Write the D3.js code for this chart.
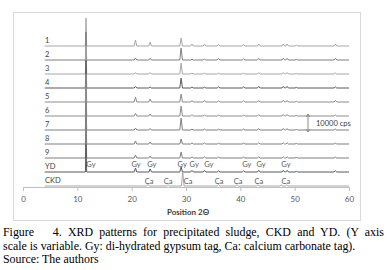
<!DOCTYPE html>
<html><head><meta charset="utf-8">
<script src="https://cdn.jsdelivr.net/npm/d3@7"></script>
<style>
html,body{margin:0;padding:0;background:#fff;}
svg{display:block;}
</style></head>
<body>
<svg id="chart" width="387" height="270"></svg>
<script>
// ---- data ----
const rowNames = ["1","2","3","4","5","6","7","8","9","YD","CKD"];
const xTicks = [0,10,20,30,40,50,60];
const scanRange = [4, 60];
// gypsum peak positions (2θ) shared by patterns 1-9 and YD
const gyPeakPos = [11.6, 20.7, 23.4, 29.1, 31.1, 33.4, 36.0, 40.6, 43.4, 47.9, 48.6, 50.3, 57.5];
// peak intensities (cps) per pattern, in gyPeakPos order
const row1 = [15500, 3300, 2200, 4400, 1100, 1100, 900, 900, 1100, 1100, 1100, 500, 1100];
const row2 = [15500, 1100, 900, 6600, 500, 500, 900, 600, 900, 900, 900, 300, 900];
const row3 = [15500, 800, 800, 6000, 500, 500, 500, 500, 800, 800, 800, 300, 600];
const row4 = [15500, 800, 600, 5500, 500, 500, 600, 600, 900, 900, 900, 300, 600];
const row5 = [15500, 2800, 1700, 4400, 900, 900, 600, 700, 900, 900, 900, 400, 900];
const row6 = [15500, 1500, 1100, 5500, 700, 600, 500, 500, 800, 800, 800, 300, 600];
const row7 = [15500, 1100, 800, 6600, 500, 500, 500, 500, 800, 800, 800, 300, 600];
const row8 = [15500, 1700, 1100, 2800, 600, 600, 500, 500, 700, 700, 700, 300, 500];
const row9 = [15500, 1700, 1100, 3300, 600, 600, 500, 500, 700, 700, 700, 300, 500];
const rowYD = [15500, 2200, 1700, 2800, 900, 900, 600, 700, 900, 900, 900, 400, 700];
// calcium carbonate peaks of CKD
const ckdPeakPos = [23.0, 26.7, 29.4, 36.0, 39.4, 43.2, 47.5, 48.5];
const rowCKD = [900, 700, 7500, 700, 700, 600, 600, 600];
// tag label positions (2θ)
const gyTagPos = [12.5, 20.8, 23.7, 29.3, 31.5, 34.2, 41.2, 43.8, 48.4];
const caTagPos = [23.2, 26.7, 30.4, 36.1, 39.6, 43.4, 48.4];
const scaleBarCps = 10000;
const captionLines = [
  "Figure   4. XRD patterns for precipitated sludge, CKD and YD. (Y axis",
  "scale is variable. Gy: di-hydrated gypsum tag, Ca: calcium carbonate tag).",
  "Source: The authors"
];

// ---- build ----
const svg = d3.select("#chart");
const x = d3.scaleLinear().domain([0,60]).range([23,349]);
const yRow = d3.scalePoint().domain(rowNames).range([46,186]);
const k = d3.scaleLinear().domain([0, scaleBarCps]).range([0, 18]); // cps -> px

const patterns = [
  {name:"1", pos:gyPeakPos, h:row1, color:"#a6a6a6"},
  {name:"2", pos:gyPeakPos, h:row2, color:"#7f7f7f"},
  {name:"3", pos:gyPeakPos, h:row3, color:"#a6a6a6"},
  {name:"4", pos:gyPeakPos, h:row4, color:"#595959"},
  {name:"5", pos:gyPeakPos, h:row5, color:"#8c8c8c"},
  {name:"6", pos:gyPeakPos, h:row6, color:"#8c8c8c"},
  {name:"7", pos:gyPeakPos, h:row7, color:"#7f7f7f"},
  {name:"8", pos:gyPeakPos, h:row8, color:"#7f7f7f"},
  {name:"9", pos:gyPeakPos, h:row9, color:"#7f7f7f"},
  {name:"YD", pos:gyPeakPos, h:rowYD, color:"#595959"},
  {name:"CKD", pos:ckdPeakPos, h:rowCKD, color:"#a6a6a6"}
];

// frame
svg.append("rect").attr("x",13.5).attr("y",12.5).attr("width",347).attr("height",208)
  .attr("fill","none").attr("stroke","#d9d9d9");

// axis
const axisY = 187;
const ax = svg.append("g").attr("transform",`translate(0,${axisY})`)
  .call(d3.axisBottom(x).tickValues(xTicks).tickSize(4).tickSizeOuter(0).tickPadding(5).tickFormat(d3.format("d")));
ax.select(".domain").attr("stroke","#bfbfbf");
ax.selectAll(".tick line").attr("stroke","#bfbfbf");
ax.selectAll(".tick text").attr("fill","#595959").style("font-family","Lato, 'Open Sans', sans-serif").style("font-size","8px");

svg.append("text").attr("x",188).attr("y",215).attr("text-anchor","middle")
  .style("font-family","Lato, 'Open Sans', sans-serif").style("font-size","8px").style("font-weight","bold")
  .attr("fill","#404040").text("Position 2Θ");

// traces
const line = d3.line().x(d=>x(d[0])).y(d=>d[1]);
patterns.forEach(p=>{
  const base = yRow(p.name);
  const pts = [[scanRange[0], base]];
  p.pos.forEach((pos,i)=>{
    const w = p.h[i] > 10000 ? 0.12 : 0.25;
    pts.push([pos-w, base],[pos, base - k(p.h[i])],[pos+w, base]);
  });
  pts.push([scanRange[1], base]);
  svg.append("path").attr("d", line(pts)).attr("fill","none")
    .attr("stroke",p.color).attr("stroke-width",1).attr("stroke-linejoin","round");
  svg.append("text").attr("x",45).attr("y",base-3)
    .style("font-family","Lato, 'Open Sans', sans-serif").style("font-size","7.5px")
    .attr("fill","#404040").text(p.name);
});

// tags
const tagFont = "Lato, 'Open Sans', sans-serif";
svg.selectAll("text.gy").data(gyTagPos).enter().append("text").attr("class","gy")
  .attr("x",d=>x(d)).attr("y",yRow("YD")-5).attr("text-anchor","middle")
  .style("font-family",tagFont).style("font-size","7.5px").attr("fill","#595959").text("Gy");
svg.selectAll("text.ca").data(caTagPos).enter().append("text").attr("class","ca")
  .attr("x",d=>x(d)).attr("y",yRow("CKD")-2.5).attr("text-anchor","middle")
  .style("font-family",tagFont).style("font-size","7.5px").attr("fill","#595959").text("Ca");

// scale bar
const barX = 308, barBottom = yRow("7") + 2, barTop = barBottom - k(scaleBarCps);
const bar = svg.append("g").attr("stroke","#8c8c8c").attr("fill","#8c8c8c");
bar.append("line").attr("x1",barX).attr("x2",barX).attr("y1",barTop).attr("y2",barBottom).attr("stroke-width",1);
bar.append("path").attr("d",`M${barX-2},${barTop+3}L${barX},${barTop}L${barX+2},${barTop+3}`).attr("fill","none");
bar.append("path").attr("d",`M${barX-2},${barBottom-3}L${barX},${barBottom}L${barX+2},${barBottom-3}`).attr("fill","none");
svg.append("text").attr("x",316).attr("y",(barTop+barBottom)/2+3)
  .style("font-family",tagFont).style("font-size","7.5px").attr("fill","#404040").text(scaleBarCps + " cps");

// caption
const capY = [236, 250, 263];
captionLines.forEach((t,i)=>{
  const tx = svg.append("text").attr("x",3).attr("y",capY[i])
    .style("font-family","'Liberation Serif', 'Times New Roman', serif").style("font-size","11.9px")
    .style("white-space","pre").attr("fill","#000").text(t);
  if(i===0){
    const w = tx.node().getComputedTextLength();
    const n = (t.match(/ /g)||[]).length;
    tx.style("word-spacing", ((381 - w)/n) + "px");
  }
});
</script>
</body></html>
